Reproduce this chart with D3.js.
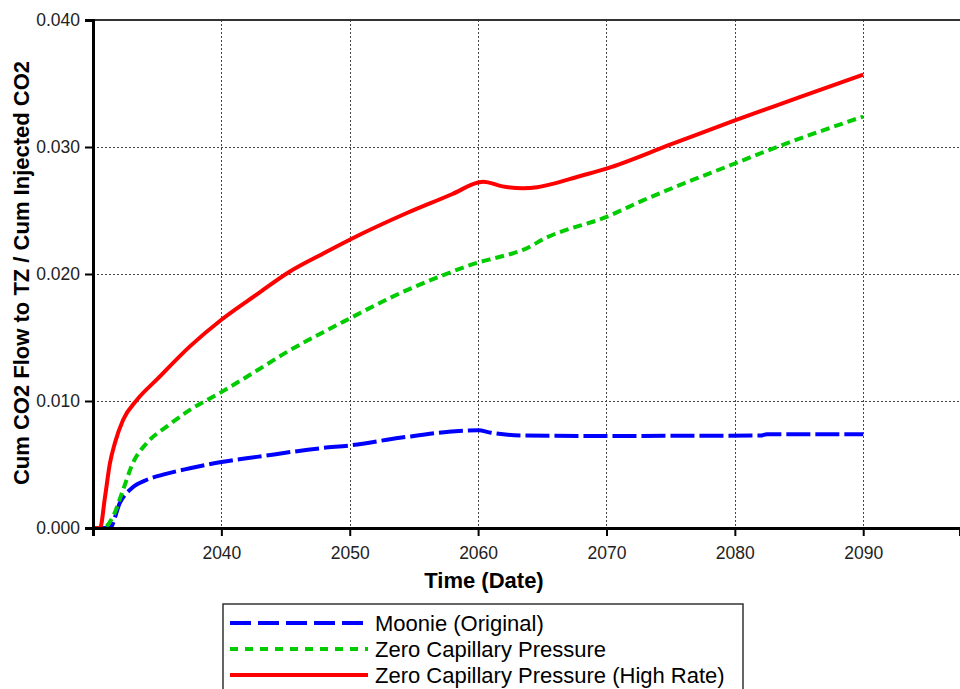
<!DOCTYPE html>
<html>
<head>
<meta charset="utf-8">
<script src="https://cdn.jsdelivr.net/npm/d3@7"></script>
<style>
  body { margin: 0; background: #fff; }
  svg { display: block; font-family: Arial, "Liberation Sans", sans-serif; }
</style>
</head>
<body>
<script>
// series names, as in the legend
var SERIES = ["Moonie (Original)", "Zero Capillary Pressure", "Zero Capillary Pressure (High Rate)"];

// Moonie (Original) - blue dashes
var moonieYears = [2030, 2031.32, 2032.1, 2033.1, 2034.2, 2035.45, 2037.55, 2040, 2042.77, 2047.9, 2050, 2053.9, 2060, 2061, 2063.5, 2070, 2082, 2082.5, 2090];
var moonieVals  = [0, 0, 0.002, 0.0032, 0.0038, 0.0042, 0.0047, 0.0052, 0.0056, 0.0063, 0.0065, 0.0071, 0.0077, 0.0075, 0.00728, 0.00725, 0.00728, 0.00738, 0.00738];

// Zero Capillary Pressure - green dots
var zeroYears = [2030, 2030.8, 2031.56, 2032.34, 2033.1, 2034.2, 2035.76, 2037.55, 2040, 2042.77, 2045.34, 2047.9, 2050, 2053.1, 2057, 2060, 2061.5, 2063.5, 2065.4, 2070, 2072.85, 2075.7, 2080, 2082.5, 2090];
var zeroVals  = [0, 0, 0.0009, 0.003, 0.0051, 0.0067, 0.008, 0.0093, 0.0107, 0.0124, 0.014, 0.0154, 0.0165, 0.0181, 0.0198, 0.0209, 0.0213, 0.0219, 0.0229, 0.0245, 0.0258, 0.027, 0.0287, 0.0297, 0.0324];

// Zero Capillary Pressure (High Rate) - red solid
var highYears = [2030, 2030.55, 2030.93, 2031.32, 2031.71, 2032.34, 2033.43, 2034.98, 2037.55, 2040, 2042.77, 2045.34, 2047.91, 2050, 2054.45, 2058, 2060, 2060.4, 2061.9, 2063.5, 2064.6, 2065.4, 2067.9, 2070, 2075, 2080, 2085, 2090];
var highVals  = [0, 0, 0.0024, 0.0051, 0.0067, 0.0085, 0.0101, 0.0117, 0.0143, 0.0164, 0.0184, 0.0202, 0.0216, 0.0227, 0.0248, 0.0263, 0.0272, 0.02727, 0.0269, 0.02675, 0.02683, 0.027, 0.0277, 0.0283, 0.0302, 0.0321, 0.0339, 0.0357];

var xTicks = [2040, 2050, 2060, 2070, 2080, 2090];
var yTicks = [0, 0.01, 0.02, 0.03, 0.04];

var w = 960, h = 689;
var plot = { left: 93, right: 960, top: 20, bottom: 528 };

var x = d3.scaleLinear().domain([2030, 2097.54]).range([plot.left, plot.right]);
var y = d3.scaleLinear().domain([0, 0.04]).range([plot.bottom, plot.top]);

var svg = d3.select("body").append("svg").attr("width", w).attr("height", h);

// grid (dotted)
var grid = svg.append("g").attr("stroke", "#444").attr("stroke-width", 1).attr("stroke-dasharray", "2,2");
grid.selectAll("line.gx").data(xTicks).enter().append("line")
  .attr("x1", function (d) { return Math.round(x(d)) + 0.5; }).attr("x2", function (d) { return Math.round(x(d)) + 0.5; })
  .attr("y1", plot.top).attr("y2", plot.bottom);
grid.selectAll("line.gy").data([0.01, 0.02, 0.03]).enter().append("line")
  .attr("x1", plot.left).attr("x2", plot.right)
  .attr("y1", function (d) { return Math.round(y(d)) + 0.5; }).attr("y2", function (d) { return Math.round(y(d)) + 0.5; });

// top border
svg.append("line").attr("x1", plot.left).attr("x2", plot.right).attr("y1", plot.top).attr("y2", plot.top)
  .attr("stroke", "#333").attr("stroke-width", 2);

// series
var series = [
  { name: SERIES[0], years: moonieYears, vals: moonieVals, color: "#0000ff", dash: "24,5", legendDash: "21,7" },
  { name: SERIES[1], years: zeroYears, vals: zeroVals, color: "#00cc00", dash: "9,5", legendDash: "8,7" },
  { name: SERIES[2], years: highYears, vals: highVals, color: "#ff0000", dash: null, legendDash: null }
];

var line = d3.line().curve(d3.curveMonotoneX)
  .x(function (d) { return x(d[0]); })
  .y(function (d) { return y(d[1]); });

series.forEach(function (s) {
  var pts = s.years.map(function (yr, i) { return [yr, s.vals[i]]; });
  svg.append("path").datum(pts)
    .attr("d", line)
    .attr("fill", "none")
    .attr("stroke", s.color)
    .attr("stroke-width", 4)
    .attr("stroke-dasharray", s.dash);
});

// axes
var yAxis = svg.append("g").attr("transform", "translate(" + plot.left + ",0)")
  .call(d3.axisLeft(y).tickValues(yTicks).tickFormat(d3.format(".3f")).tickSize(8).tickPadding(5));
var xAxis = svg.append("g").attr("transform", "translate(0," + plot.bottom + ")")
  .call(d3.axisBottom(x).tickValues(xTicks).tickFormat(d3.format("d")).tickSize(8).tickPadding(11));

[yAxis, xAxis].forEach(function (a) {
  a.select(".domain").attr("stroke", "#000").attr("stroke-width", 3);
  a.selectAll(".tick line").attr("stroke", "#000").attr("stroke-width", 2);
  a.selectAll(".tick text").attr("fill", "#222").style("font-size", "17.5px").style("font-family", "Arial, 'Liberation Sans', sans-serif");
});

// axis titles
svg.append("text")
  .attr("x", 484).attr("y", 588)
  .attr("text-anchor", "middle")
  .style("font-size", "22px").style("font-weight", "bold")
  .text("Time (Date)");

svg.append("text")
  .attr("transform", "rotate(-90)")
  .attr("x", -273).attr("y", 29)
  .attr("text-anchor", "middle")
  .style("font-size", "22px").style("font-weight", "bold")
  .text("Cum CO2 Flow to TZ / Cum Injected CO2");

// legend
var legend = svg.append("g");
legend.append("rect").attr("x", 223).attr("y", 604).attr("width", 520).attr("height", 110)
  .attr("fill", "#fff").attr("stroke", "#333").attr("stroke-width", 1.5);

var rows = legend.selectAll("g.row").data(series).enter().append("g")
  .attr("transform", function (d, i) { return "translate(0," + (623 + i * 26) + ")"; });
rows.append("line").attr("x1", 230).attr("x2", 368).attr("y1", 0).attr("y2", 0)
  .attr("stroke", function (d) { return d.color; })
  .attr("stroke-width", 4)
  .attr("stroke-dasharray", function (d) { return d.legendDash; });
rows.append("text").attr("x", 375).attr("y", 7.5)
  .style("font-size", "22px").attr("fill", "#000")
  .text(function (d) { return d.name; });
</script>
</body>
</html>
